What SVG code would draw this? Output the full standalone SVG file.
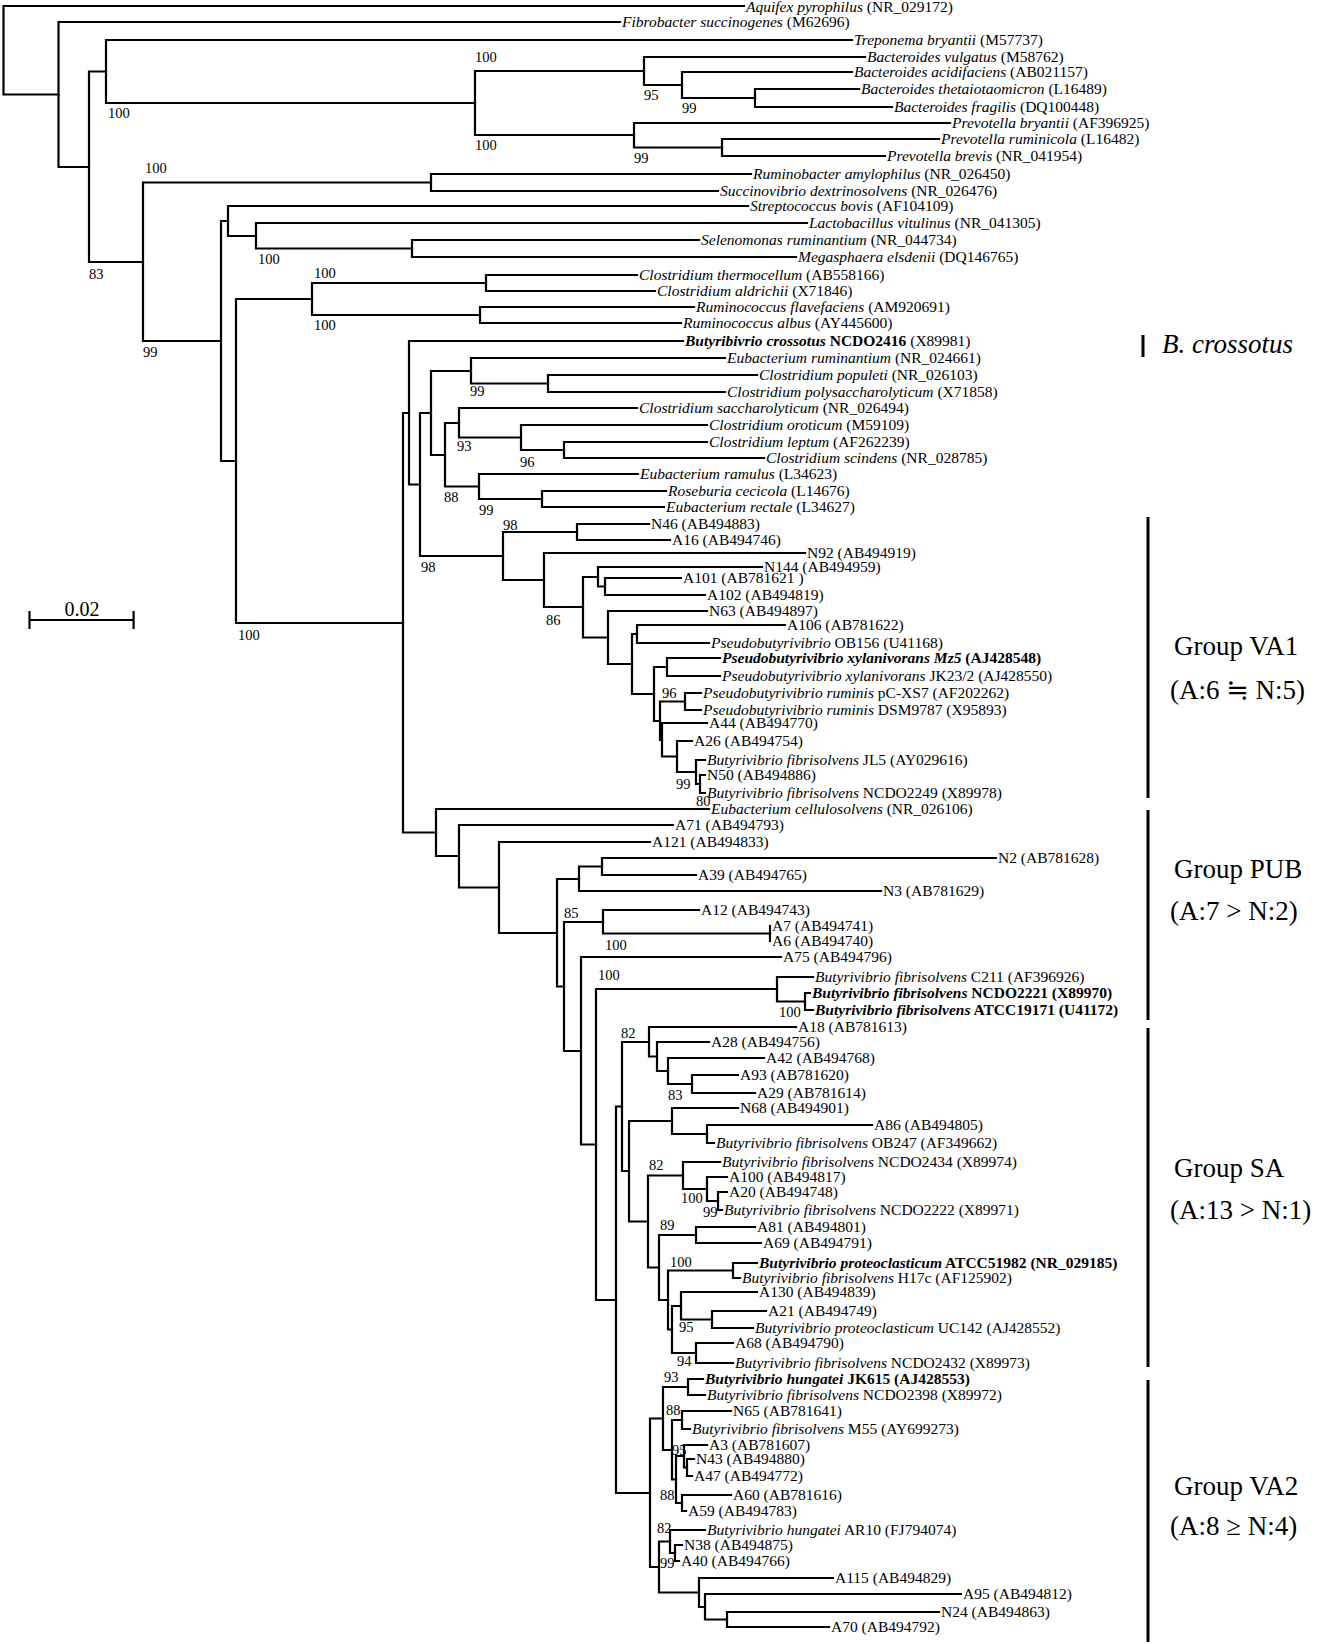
<svg xmlns="http://www.w3.org/2000/svg" width="1322" height="1644" viewBox="0 0 1322 1644">
<style>
text{font-family:"Liberation Serif","DejaVu Serif","Noto Sans CJK JP",serif;fill:#000}
.t{font-size:15.5px}
.i{font-style:italic}
.b{font-weight:bold}
.bs{font-size:14.5px}
.g{font-size:27px}
.ln{stroke:#000;stroke-width:2.2;fill:none;stroke-linecap:square}
.bar{stroke:#000;stroke-width:3;fill:none}
</style>
<rect width="1322" height="1644" fill="#fff"/>
<g id="connectors" class="ln">
<path d="M3.5,6V94.5M3.5,6H744M3.5,94.5H58.5"/>
<path d="M58.5,22V167M58.5,22H620M58.5,167H89"/>
<path d="M89,71.5V262M89,71.5H106M89,262H143"/>
<path d="M106,40V103M106,40H852M106,103H475"/>
<path d="M475,71V135M475,71H644M475,135H634"/>
<path d="M644,57V85M644,57H865M644,85H682"/>
<path d="M682,72V98M682,72H852M682,98H755"/>
<path d="M755,89V107M755,89H859M755,107H892"/>
<path d="M634,123V147.5M634,123H950M634,147.5H722"/>
<path d="M722,139V156M722,139H939M722,156H885"/>
<path d="M143,182.5V341M143,182.5H431M143,341H221"/>
<path d="M431,174V191M431,174H751M431,191H718"/>
<path d="M221,221V461M221,221H228M221,461H236"/>
<path d="M228,206V236M228,206H748M228,236H256"/>
<path d="M256,223V248.5M256,223H807M256,248.5H412"/>
<path d="M412,240V257M412,240H699M412,257H796"/>
<path d="M236,299V623M236,299H312M236,623H403"/>
<path d="M312,283V315M312,283H486M312,315H480"/>
<path d="M486,275V291M486,275H637M486,291H655"/>
<path d="M480,307V323M480,307H694M480,323H681"/>
<path d="M403,413V832.5M403,413H409M403,832.5H436"/>
<path d="M409,341V484.5M409,341H683M409,484.5H420"/>
<path d="M420,413V556M420,413H431M420,556H503"/>
<path d="M431,371V455M431,371H471M431,455H445"/>
<path d="M471,358V383.5M471,358H725M471,383.5H548"/>
<path d="M548,375V392M548,375H757M548,392H725"/>
<path d="M445,423V486.5M445,423H459M445,486.5H479"/>
<path d="M459,408V437.5M459,408H637M459,437.5H521"/>
<path d="M521,425V450M521,425H707M521,450H564"/>
<path d="M564,442V458M564,442H707M564,458H764"/>
<path d="M479,474V499M479,474H638M479,499H542"/>
<path d="M542,491V507M542,491H666M542,507H664"/>
<path d="M503,532V580M503,532H577M503,580H544"/>
<path d="M577,524V540M577,524H649M577,540H670"/>
<path d="M544,553V607M544,553H805M544,607H583"/>
<path d="M583,577V637.5M583,577H598M583,637.5H608"/>
<path d="M598,567V586.5M598,567H762M598,586.5H605"/>
<path d="M605,578V595M605,578H681M605,595H705"/>
<path d="M608,611V664M608,611H707M608,664H632"/>
<path d="M632,634V694M632,634H637M632,694H654"/>
<path d="M637,625V643M637,625H785M637,643H709"/>
<path d="M654,667V721M654,667H667M654,721H660"/>
<path d="M667,658V676M667,658H720M667,676H720"/>
<path d="M660,701.5V740M660,701.5H685M660,740H662"/>
<path d="M685,693V710M685,693H701M685,710H701"/>
<path d="M662,723V756.5M662,723H707M662,756.5H677"/>
<path d="M677,741V772M677,741H692M677,772H696"/>
<path d="M696,760V784M696,760H705M696,784H700"/>
<path d="M700,775V793M700,775H705M700,793H705"/>
<path d="M436,809V856M436,809H709M436,856H459"/>
<path d="M459,825V887.5M459,825H673M459,887.5H499"/>
<path d="M499,842V933M499,842H650M499,933H557"/>
<path d="M557,879V986.5M557,879H579M557,986.5H564"/>
<path d="M579,866.5V891M579,866.5H602M579,891H881"/>
<path d="M602,858V875M602,858H996M602,875H696"/>
<path d="M564,922V1051M564,922H603M564,1051H581"/>
<path d="M603,910V933.5M603,910H699M603,933.5H770"/>
<path d="M770,926V941"/>
<path d="M581,957V1144.5M581,957H781M581,1144.5H596"/>
<path d="M596,989V1300M596,989H777M596,1300H616"/>
<path d="M777,977V1001.5M777,977H813M777,1001.5H805"/>
<path d="M805,993V1010M805,993H810M805,1010H813"/>
<path d="M616,1106.5V1493M616,1106.5H622M616,1493H650"/>
<path d="M622,1042V1171M622,1042H649M622,1171H629"/>
<path d="M649,1027V1056.5M649,1027H796M649,1056.5H657"/>
<path d="M657,1042V1071M657,1042H709M657,1071H668"/>
<path d="M668,1058V1084M668,1058H764M668,1084H692"/>
<path d="M692,1075V1093M692,1075H738M692,1093H755"/>
<path d="M629,1121V1221.5M629,1121H672M629,1221.5H648"/>
<path d="M672,1108V1134M672,1108H738M672,1134H707"/>
<path d="M707,1125V1143M707,1125H872M707,1143H714"/>
<path d="M648,1175.5V1267.5M648,1175.5H683M648,1267.5H659"/>
<path d="M683,1162V1189M683,1162H720M683,1189H707"/>
<path d="M707,1177V1201M707,1177H727M707,1201H718"/>
<path d="M718,1192V1210M718,1192H727M718,1210H722"/>
<path d="M659,1235V1300M659,1235H696M659,1300H668"/>
<path d="M696,1227V1243M696,1227H755M696,1243H761"/>
<path d="M668,1270.5V1329.5M668,1270.5H733M668,1329.5H672"/>
<path d="M733,1263V1278M733,1263H757M733,1278H740"/>
<path d="M672,1306V1353M672,1306H681M672,1353H696"/>
<path d="M681,1292V1319.5M681,1292H757M681,1319.5H712"/>
<path d="M712,1311V1328M712,1311H766M712,1328H753"/>
<path d="M696,1343V1363M696,1343H733M696,1363H733"/>
<path d="M650,1418.5V1567M650,1418.5H663M650,1567H659"/>
<path d="M663,1387V1450M663,1387H688M663,1450H672"/>
<path d="M688,1379V1395M688,1379H703M688,1395H705"/>
<path d="M672,1420V1479.5M672,1420H682M672,1479.5H676"/>
<path d="M682,1411V1429M682,1411H731M682,1429H690"/>
<path d="M676,1456V1503M676,1456H684M676,1503H682"/>
<path d="M684,1445V1467.5M684,1445H707M684,1467.5H687"/>
<path d="M687,1459V1476M687,1459H694M687,1476H692"/>
<path d="M682,1495V1511M682,1495H731M682,1511H686"/>
<path d="M659,1541.5V1592.5M659,1541.5H670M659,1592.5H699"/>
<path d="M670,1530V1553M670,1530H705M670,1553H675"/>
<path d="M675,1545V1561M675,1545H682M675,1561H679"/>
<path d="M699,1578V1607M699,1578H833M699,1607H705"/>
<path d="M705,1594V1619.5M705,1594H961M705,1619.5H727"/>
<path d="M727,1612V1627M727,1612H939M727,1627H829"/>
</g>
<g id="leaves" class="t">
<g id="n-aquifex"><text x="746" y="12"><tspan class="i">Aquifex pyrophilus</tspan> (NR_029172)</text></g>
<g id="n-fibrobacter"><text x="622" y="27"><tspan class="i">Fibrobacter succinogenes</tspan> (M62696)</text></g>
<g id="n-treponema"><text x="854" y="45"><tspan class="i">Treponema bryantii</tspan> (M57737)</text></g>
<g id="n-bvulgatus"><text x="867" y="62"><tspan class="i">Bacteroides vulgatus</tspan> (M58762)</text></g>
<g id="n-bacidifaciens"><text x="854" y="77"><tspan class="i">Bacteroides acidifaciens</tspan> (AB021157)</text></g>
<g id="n-btheta"><text x="861" y="94"><tspan class="i">Bacteroides thetaiotaomicron</tspan> (L16489)</text></g>
<g id="n-bfragilis"><text x="894" y="112"><tspan class="i">Bacteroides fragilis</tspan> (DQ100448)</text></g>
<g id="n-pbryantii"><text x="952" y="128"><tspan class="i">Prevotella bryantii</tspan> (AF396925)</text></g>
<g id="n-pruminicola"><text x="941" y="144"><tspan class="i">Prevotella ruminicola</tspan> (L16482)</text></g>
<g id="n-pbrevis"><text x="887" y="161"><tspan class="i">Prevotella brevis</tspan> (NR_041954)</text></g>
<g id="n-ruminobacter"><text x="753" y="179"><tspan class="i">Ruminobacter amylophilus</tspan> (NR_026450)</text></g>
<g id="n-succinovibrio"><text x="720" y="196"><tspan class="i">Succinovibrio dextrinosolvens</tspan> (NR_026476)</text></g>
<g id="n-streptococcus"><text x="750" y="211"><tspan class="i">Streptococcus bovis</tspan> (AF104109)</text></g>
<g id="n-lactobacillus"><text x="809" y="228"><tspan class="i">Lactobacillus vitulinus</tspan> (NR_041305)</text></g>
<g id="n-selenomonas"><text x="701" y="245"><tspan class="i">Selenomonas ruminantium</tspan> (NR_044734)</text></g>
<g id="n-megasphaera"><text x="798" y="262"><tspan class="i">Megasphaera elsdenii</tspan> (DQ146765)</text></g>
<g id="n-cthermocellum"><text x="639" y="280"><tspan class="i">Clostridium thermocellum</tspan> (AB558166)</text></g>
<g id="n-caldrichii"><text x="657" y="296"><tspan class="i">Clostridium aldrichii</tspan> (X71846)</text></g>
<g id="n-rflavefaciens"><text x="696" y="312"><tspan class="i">Ruminococcus flavefaciens</tspan> (AM920691)</text></g>
<g id="n-ralbus"><text x="683" y="328"><tspan class="i">Ruminococcus albus</tspan> (AY445600)</text></g>
<g id="n-bcrossotus"><text x="685" y="346"><tspan class="i b">Butyribivrio crossotus</tspan><tspan class="b"> NCDO2416</tspan> (X89981)</text></g>
<g id="n-eruminantium"><text x="727" y="363"><tspan class="i">Eubacterium ruminantium</tspan> (NR_024661)</text></g>
<g id="n-cpopuleti"><text x="759" y="380"><tspan class="i">Clostridium populeti</tspan> (NR_026103)</text></g>
<g id="n-cpolysacch"><text x="727" y="397"><tspan class="i">Clostridium polysaccharolyticum</tspan> (X71858)</text></g>
<g id="n-csacch"><text x="639" y="413"><tspan class="i">Clostridium saccharolyticum</tspan> (NR_026494)</text></g>
<g id="n-coroticum"><text x="709" y="430"><tspan class="i">Clostridium oroticum</tspan> (M59109)</text></g>
<g id="n-cleptum"><text x="709" y="447"><tspan class="i">Clostridium leptum</tspan> (AF262239)</text></g>
<g id="n-cscindens"><text x="766" y="463"><tspan class="i">Clostridium scindens</tspan> (NR_028785)</text></g>
<g id="n-eramulus"><text x="640" y="479"><tspan class="i">Eubacterium ramulus</tspan> (L34623)</text></g>
<g id="n-roseburia"><text x="668" y="496"><tspan class="i">Roseburia cecicola</tspan> (L14676)</text></g>
<g id="n-erectale"><text x="666" y="512"><tspan class="i">Eubacterium rectale</tspan> (L34627)</text></g>
<g id="n-N46"><text x="651" y="529">N46 (AB494883)</text></g>
<g id="n-A16"><text x="672" y="545">A16 (AB494746)</text></g>
<g id="n-N92"><text x="807" y="558">N92 (AB494919)</text></g>
<g id="n-N144"><text x="764" y="572">N144 (AB494959)</text></g>
<g id="n-A101"><text x="683" y="583">A101 (AB781621 )</text></g>
<g id="n-A102"><text x="707" y="600">A102 (AB494819)</text></g>
<g id="n-N63"><text x="709" y="616">N63 (AB494897)</text></g>
<g id="n-A106"><text x="787" y="630">A106 (AB781622)</text></g>
<g id="n-OB156"><text x="711" y="648"><tspan class="i">Pseudobutyrivibrio</tspan> OB156 (U41168)</text></g>
<g id="n-Mz5"><text x="722" y="663" class="b"><tspan class="i">Pseudobutyrivibrio xylanivorans Mz5</tspan> (AJ428548)</text></g>
<g id="n-JK23"><text x="722" y="681"><tspan class="i">Pseudobutyrivibrio xylanivorans</tspan> JK23/2 (AJ428550)</text></g>
<g id="n-pCXS7"><text x="703" y="698"><tspan class="i">Pseudobutyrivibrio ruminis</tspan> pC-XS7 (AF202262)</text></g>
<g id="n-DSM9787"><text x="703" y="715"><tspan class="i">Pseudobutyrivibrio ruminis</tspan> DSM9787 (X95893)</text></g>
<g id="n-A44"><text x="709" y="728">A44 (AB494770)</text></g>
<g id="n-A26"><text x="694" y="746">A26 (AB494754)</text></g>
<g id="n-JL5"><text x="707" y="765"><tspan class="i">Butyrivibrio fibrisolvens</tspan> JL5 (AY029616)</text></g>
<g id="n-N50"><text x="707" y="780">N50 (AB494886)</text></g>
<g id="n-NCDO2249"><text x="707" y="798"><tspan class="i">Butyrivibrio fibrisolvens</tspan> NCDO2249 (X89978)</text></g>
<g id="n-ecellulosolvens"><text x="711" y="814"><tspan class="i">Eubacterium cellulosolvens</tspan> (NR_026106)</text></g>
<g id="n-A71"><text x="675" y="830">A71 (AB494793)</text></g>
<g id="n-A121"><text x="652" y="847">A121 (AB494833)</text></g>
<g id="n-N2"><text x="998" y="863">N2 (AB781628)</text></g>
<g id="n-A39"><text x="698" y="880">A39 (AB494765)</text></g>
<g id="n-N3"><text x="883" y="896">N3 (AB781629)</text></g>
<g id="n-A12"><text x="701" y="915">A12 (AB494743)</text></g>
<g id="n-A7"><text x="772" y="931">A7 (AB494741)</text></g>
<g id="n-A6"><text x="772" y="946">A6 (AB494740)</text></g>
<g id="n-A75"><text x="783" y="962">A75 (AB494796)</text></g>
<g id="n-C211"><text x="815" y="982"><tspan class="i">Butyrivibrio fibrisolvens</tspan> C211 (AF396926)</text></g>
<g id="n-NCDO2221"><text x="812" y="998" class="b"><tspan class="i">Butyrivibrio fibrisolvens</tspan> NCDO2221 (X89970)</text></g>
<g id="n-ATCC19171"><text x="815" y="1015" class="b"><tspan class="i">Butyrivibrio fibrisolvens</tspan> ATCC19171 (U41172)</text></g>
<g id="n-A18"><text x="798" y="1032">A18 (AB781613)</text></g>
<g id="n-A28"><text x="711" y="1047">A28 (AB494756)</text></g>
<g id="n-A42"><text x="766" y="1063">A42 (AB494768)</text></g>
<g id="n-A93"><text x="740" y="1080">A93 (AB781620)</text></g>
<g id="n-A29"><text x="757" y="1098">A29 (AB781614)</text></g>
<g id="n-N68"><text x="740" y="1113">N68 (AB494901)</text></g>
<g id="n-A86"><text x="874" y="1130">A86 (AB494805)</text></g>
<g id="n-OB247"><text x="716" y="1148"><tspan class="i">Butyrivibrio fibrisolvens</tspan> OB247 (AF349662)</text></g>
<g id="n-NCDO2434"><text x="722" y="1167"><tspan class="i">Butyrivibrio fibrisolvens</tspan> NCDO2434 (X89974)</text></g>
<g id="n-A100"><text x="729" y="1182">A100 (AB494817)</text></g>
<g id="n-A20"><text x="729" y="1197">A20 (AB494748)</text></g>
<g id="n-NCDO2222"><text x="724" y="1215"><tspan class="i">Butyrivibrio fibrisolvens</tspan> NCDO2222 (X89971)</text></g>
<g id="n-A81"><text x="757" y="1232">A81 (AB494801)</text></g>
<g id="n-A69"><text x="763" y="1248">A69 (AB494791)</text></g>
<g id="n-ATCC51982"><text x="759" y="1268" class="b"><tspan class="i">Butyrivibrio proteoclasticum</tspan> ATCC51982 (NR_029185)</text></g>
<g id="n-H17c"><text x="742" y="1283"><tspan class="i">Butyrivibrio fibrisolvens</tspan> H17c (AF125902)</text></g>
<g id="n-A130"><text x="759" y="1297">A130 (AB494839)</text></g>
<g id="n-A21"><text x="768" y="1316">A21 (AB494749)</text></g>
<g id="n-UC142"><text x="755" y="1333"><tspan class="i">Butyrivibrio proteoclasticum</tspan> UC142 (AJ428552)</text></g>
<g id="n-A68"><text x="735" y="1348">A68 (AB494790)</text></g>
<g id="n-NCDO2432"><text x="735" y="1368"><tspan class="i">Butyrivibrio fibrisolvens</tspan> NCDO2432 (X89973)</text></g>
<g id="n-JK615"><text x="705" y="1384" class="b"><tspan class="i">Butyrivibrio hungatei</tspan> JK615 (AJ428553)</text></g>
<g id="n-NCDO2398"><text x="707" y="1400"><tspan class="i">Butyrivibrio fibrisolvens</tspan> NCDO2398 (X89972)</text></g>
<g id="n-N65"><text x="733" y="1416">N65 (AB781641)</text></g>
<g id="n-M55"><text x="692" y="1434"><tspan class="i">Butyrivibrio fibrisolvens</tspan> M55 (AY699273)</text></g>
<g id="n-A3"><text x="709" y="1450">A3 (AB781607)</text></g>
<g id="n-N43"><text x="696" y="1464">N43 (AB494880)</text></g>
<g id="n-A47"><text x="694" y="1481">A47 (AB494772)</text></g>
<g id="n-A60"><text x="733" y="1500">A60 (AB781616)</text></g>
<g id="n-A59"><text x="688" y="1516">A59 (AB494783)</text></g>
<g id="n-AR10"><text x="707" y="1535"><tspan class="i">Butyrivibrio hungatei</tspan> AR10 (FJ794074)</text></g>
<g id="n-N38"><text x="684" y="1550">N38 (AB494875)</text></g>
<g id="n-A40"><text x="681" y="1566">A40 (AB494766)</text></g>
<g id="n-A115"><text x="835" y="1583">A115 (AB494829)</text></g>
<g id="n-A95"><text x="963" y="1599">A95 (AB494812)</text></g>
<g id="n-N24"><text x="941" y="1617">N24 (AB494863)</text></g>
<g id="n-A70"><text x="831" y="1632">A70 (AB494792)</text></g>
</g>
<g id="bootstrap" class="bs">
<text x="475" y="62">100</text>
<text x="475" y="150">100</text>
<text x="644" y="100">95</text>
<text x="634" y="163">99</text>
<text x="682" y="113">99</text>
<text x="108" y="118">100</text>
<text x="145" y="173">100</text>
<text x="89" y="279">83</text>
<text x="258" y="264">100</text>
<text x="314" y="278">100</text>
<text x="314" y="330">100</text>
<text x="143" y="357">99</text>
<text x="470" y="396">99</text>
<text x="457" y="451">93</text>
<text x="520" y="467">96</text>
<text x="444" y="502">88</text>
<text x="479" y="515">99</text>
<text x="503" y="530">98</text>
<text x="421" y="572">98</text>
<text x="546" y="625">86</text>
<text x="238" y="640">100</text>
<text x="662" y="698">96</text>
<text x="676" y="789">99</text>
<text x="696" y="806">80</text>
<text x="564" y="918">85</text>
<text x="605" y="950">100</text>
<text x="598" y="980">100</text>
<text x="779" y="1017">100</text>
<text x="621" y="1038">82</text>
<text x="668" y="1100">83</text>
<text x="649" y="1170">82</text>
<text x="681" y="1203">100</text>
<text x="703" y="1217">99</text>
<text x="660" y="1230">89</text>
<text x="670" y="1267">100</text>
<text x="679" y="1332">95</text>
<text x="677" y="1366">94</text>
<text x="664" y="1382">93</text>
<text x="666" y="1415">88</text>
<text x="672" y="1455">95</text>
<text x="660" y="1500">88</text>
<text x="657" y="1533">82</text>
<text x="660" y="1568">99</text>
</g>
<g id="scale-bar">
<path class="ln" d="M29.5,620H133.6M29.5,612V628M133.6,612V628"/>
<text x="82" y="616" font-size="20" text-anchor="middle">0.02</text>
</g>
<g id="group-bcrossotus">
<path class="bar" d="M1143,335V357"/>
<text x="1162" y="353" class="g i">B. crossotus</text>
</g>
<g id="group-VA1">
<path class="bar" d="M1148,517V798"/>
<text x="1174" y="655" class="g">Group VA1</text>
<text x="1170" y="699" class="g">(A:6 ≒ N:5)</text>
</g>
<g id="group-PUB">
<path class="bar" d="M1148,810V1020"/>
<text x="1174" y="878" class="g">Group PUB</text>
<text x="1170" y="920" class="g">(A:7 &gt; N:2)</text>
</g>
<g id="group-SA">
<path class="bar" d="M1148,1028V1367"/>
<text x="1174" y="1177" class="g">Group SA</text>
<text x="1170" y="1219" class="g">(A:13 &gt; N:1)</text>
</g>
<g id="group-VA2">
<path class="bar" d="M1148,1380V1642"/>
<text x="1174" y="1495" class="g">Group VA2</text>
<text x="1170" y="1535" class="g">(A:8 ≥ N:4)</text>
</g>
</svg>
